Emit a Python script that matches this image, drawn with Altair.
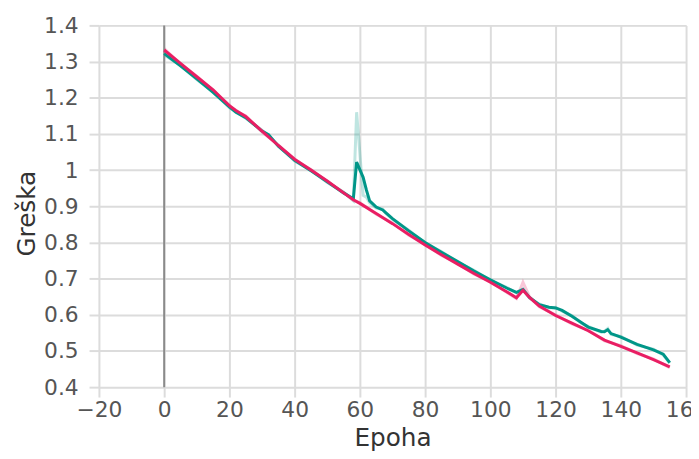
import altair as alt
import pandas as pd

# ---- data ----
epochs_pink = [0, 5, 10, 15, 20, 22, 25, 30, 35, 40, 45, 50, 55, 58, 60, 65, 70, 75, 80, 85,
               90, 95, 100, 105, 108, 110, 112, 115, 120, 125, 130, 135, 140, 145, 150, 155]
pink_smooth = [1.332, 1.295, 1.258, 1.222, 1.178, 1.165, 1.148, 1.108, 1.068, 1.030, 1.000,
               0.970, 0.937, 0.918, 0.908, 0.880, 0.852, 0.822, 0.793, 0.766, 0.740, 0.714,
               0.690, 0.664, 0.647, 0.668, 0.648, 0.624, 0.598, 0.577, 0.556, 0.530, 0.513,
               0.495, 0.476, 0.456]
pink_raw = [1.336, 1.293, 1.260, 1.220, 1.180, 1.162, 1.150, 1.105, 1.070, 1.028, 1.002,
            0.968, 0.939, 0.916, 0.910, 0.878, 0.854, 0.820, 0.795, 0.764, 0.742, 0.712,
            0.692, 0.662, 0.645, 0.690, 0.650, 0.622, 0.600, 0.575, 0.558, 0.528, 0.515,
            0.493, 0.478, 0.454]

epochs_teal = [0, 5, 10, 15, 20, 22, 25, 30, 32, 35, 40, 45, 50, 55, 58, 59, 61, 62, 63, 65,
               67, 68, 70, 75, 80, 85, 90, 95, 100, 105, 108, 110, 112, 115, 118, 120, 122,
               125, 128, 130, 134, 135, 136, 137, 140, 145, 150, 153, 155]
teal_smooth = [1.322, 1.288, 1.252, 1.215, 1.175, 1.160, 1.145, 1.108, 1.098, 1.066, 1.027,
               0.998, 0.968, 0.937, 0.921, 1.022, 0.980, 0.945, 0.915, 0.898, 0.890, 0.882,
               0.866, 0.832, 0.800, 0.773, 0.747, 0.721, 0.697, 0.674, 0.662, 0.670, 0.648,
               0.628, 0.621, 0.619, 0.612, 0.596, 0.578, 0.566, 0.554, 0.553, 0.559, 0.548,
               0.538, 0.518, 0.503, 0.491, 0.468]
teal_raw = [1.318, 1.290, 1.250, 1.217, 1.172, 1.162, 1.143, 1.110, 1.096, 1.068, 1.025,
            1.000, 0.966, 0.939, 0.915, 1.160, 0.930, 0.925, 0.910, 0.895, 0.892, 0.880,
            0.864, 0.834, 0.798, 0.775, 0.745, 0.723, 0.695, 0.676, 0.660, 0.672, 0.646,
            0.630, 0.619, 0.621, 0.610, 0.598, 0.576, 0.568, 0.552, 0.555, 0.562, 0.546,
            0.540, 0.516, 0.505, 0.489, 0.466]

x_ticks = [-20, 0, 20, 40, 60, 80, 100, 120, 140, 160]
y_ticks = [0.4, 0.5, 0.6, 0.7, 0.8, 0.9, 1.0, 1.1, 1.2, 1.3, 1.4]

TEAL = "#009688"
PINK = "#E91E63"

rows = []
for e, v in zip(epochs_teal, teal_raw):
    rows.append({"epoha": e, "greska": v, "serija": "teal_raw"})
for e, v in zip(epochs_pink, pink_raw):
    rows.append({"epoha": e, "greska": v, "serija": "pink_raw"})
for e, v in zip(epochs_teal, teal_smooth):
    rows.append({"epoha": e, "greska": v, "serija": "teal"})
for e, v in zip(epochs_pink, pink_smooth):
    rows.append({"epoha": e, "greska": v, "serija": "pink"})
df = pd.DataFrame(rows)

font = "DejaVu Sans"

x_axis = alt.Axis(
    title="Epoha", values=x_ticks, format="d", labelFontSize=22, labelColor="#555555",
    labelFont=font, titleFont=font, titleFontSize=25, titleFontWeight="normal",
    titleColor="#333333", labelPadding=3, titleBaseline="alphabetic", titleY=59,
    labelOverlap=False, labelFlush=False, labelBound=False,
    grid=True, gridColor="#dcdcdc", gridWidth=2, tickColor="#dcdcdc", tickWidth=2,
    tickSize=10, domain=False,
)
y_axis = alt.Axis(
    title="Greška", values=y_ticks, format="~g", labelFontSize=22, labelColor="#555555",
    labelFont=font, titleFont=font, titleFontSize=25, titleFontWeight="normal",
    titleColor="#333333", labelPadding=11, titleBaseline="alphabetic", titleX=-65,
    titleY=190, labelOverlap=False, labelFlush=False, labelBound=False,
    grid=True, gridColor="#dcdcdc", gridWidth=2, tickColor="#dcdcdc",
    tickWidth=2, tickSize=10, domain=False,
)
x_scale = alt.Scale(domain=[-20, 160], nice=False, zero=False)
y_scale = alt.Scale(domain=[0.4, 1.4], nice=False, zero=False)


def xe():
    return alt.X("epoha:Q", scale=x_scale, axis=x_axis)


def ye():
    return alt.Y("greska:Q", scale=y_scale, axis=y_axis)


color_scale = alt.Scale(domain=["teal_raw", "pink_raw", "teal", "pink"],
                        range=[TEAL, PINK, TEAL, PINK])

raw = alt.Chart(df).transform_filter(
    alt.FieldOneOfPredicate(field="serija", oneOf=["teal_raw", "pink_raw"])
).mark_line(strokeWidth=3, opacity=0.25).encode(
    x=xe(), y=ye(),
    color=alt.Color("serija:N", scale=color_scale, legend=None),
    detail="serija:N",
)

teal_line = alt.Chart(df).transform_filter(
    alt.datum.serija == "teal"
).mark_line(strokeWidth=3, color=TEAL).encode(x=xe(), y=ye())

pink_line = alt.Chart(df).transform_filter(
    alt.datum.serija == "pink"
).mark_line(strokeWidth=3, color=PINK).encode(x=xe(), y=ye())

zero_line = alt.Chart(pd.DataFrame({"epoha": [0]})).mark_rule(
    color="#8a8a8a", strokeWidth=2
).encode(x=xe())

chart = alt.layer(raw, zero_line, teal_line, pink_line).properties(
    width=594, height=366,
    autosize=alt.AutoSizeParams(type="none"),
    padding={"left": 92, "top": 15, "right": 5, "bottom": 62},
).configure_view(stroke=None).configure(background="white")

chart.save("out.html", embed_options={"renderer": "svg", "actions": False})
